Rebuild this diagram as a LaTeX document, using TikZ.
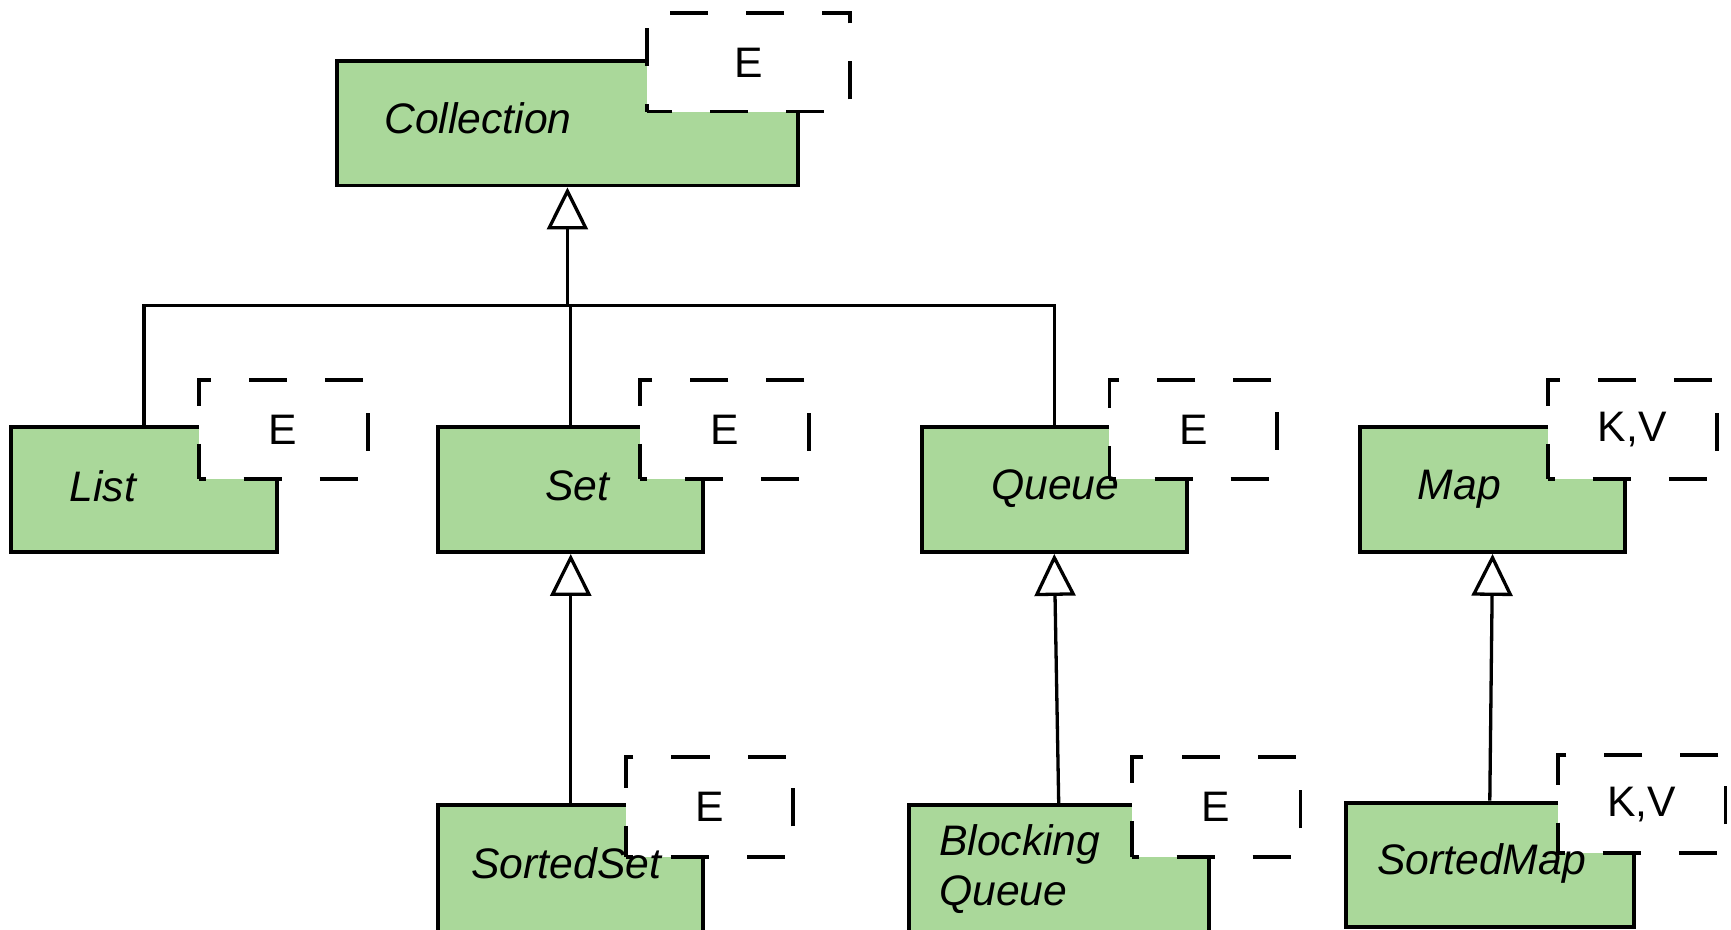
\documentclass[tikz,border=0pt]{standalone}
\usepackage{fontspec}
\setmainfont{Liberation Sans}
\definecolor{ClsGreen}{HTML}{AAD89A}
\usetikzlibrary{arrows.meta, positioning}

\tikzset{
  cls/.style={draw, rectangle, line width=1pt, fill=ClsGreen, inner sep=0pt},
  tparam/.style={draw, rectangle, line width=1pt, fill=white, inner sep=0pt,
    dash pattern=on 9.8pt off 9.8pt, dash phase=8pt, minimum height=0.9cm,
    font=\fontsize{11}{13}\selectfont},
  clsname/.style={inner sep=0pt, font=\itshape\fontsize{11}{13}\selectfont},
  inherit/.style={line width=0.85pt, -{Triangle[open, length=0.38cm, width=0.37cm]}},
  link/.style={line width=0.85pt}
}

\begin{document}
\begin{tikzpicture}
  \useasboundingbox (0,0) rectangle (15.68,-8.42);
  \clip (0,0) rectangle (15.68,-8.42);
  % Top interface
  \node[cls, minimum width=4.18cm, minimum height=1.13cm] (coll) at (5.14,-1.115) {};
  \node[tparam, dash phase=3.3pt, minimum width=1.84cm, minimum height=0.89cm] (collP) at (6.78,-0.565) {E};
  \node[clsname] (collT) at (4.33,-1.07) {Collection};
  % Second row
  \node[cls, minimum width=2.41cm, minimum height=1.13cm] (list) at (1.305,-4.435) {};
  \node[tparam, minimum width=1.53cm] (listP) at (2.565,-3.89) {E};
  \node[clsname] (listT) at (0.93,-4.40) {List};
  \node[cls, minimum width=2.40cm, minimum height=1.13cm] (set) at (5.17,-4.435) {};
  \node[tparam, minimum width=1.53cm] (setP) at (6.565,-3.89) {E};
  \node[clsname] (setT) at (5.23,-4.40) {Set};
  \node[cls, minimum width=2.40cm, minimum height=1.13cm] (queue) at (9.55,-4.435) {};
  \node[tparam, minimum width=1.52cm] (queueP) at (10.81,-3.89) {E};
  \node[clsname] (queueT) at (9.56,-4.43) {Queue};
  \node[cls, minimum width=2.40cm, minimum height=1.13cm] (map) at (13.52,-4.435) {};
  \node[tparam, minimum width=1.53cm] (mapP) at (14.785,-3.89) {K,V};
  \node[clsname] (mapT) at (13.22,-4.43) {Map};
  % Bottom row
  \node[cls, minimum width=2.40cm, minimum height=1.17cm] (sset) at (5.17,-7.875) {};
  \node[tparam, minimum width=1.51cm] (ssetP) at (6.425,-7.31) {E};
  \node[clsname] (ssetT) at (5.13,-7.82) {SortedSet};
  \node[cls, minimum width=2.72cm, minimum height=1.17cm] (bq) at (9.59,-7.875) {};
  \node[tparam, minimum width=1.53cm] (bqP) at (11.015,-7.31) {E};
  \node[clsname, anchor=west, align=left] (bqT) at (8.50,-7.87) {Blocking\\Queue};
  \node[cls, minimum width=2.61cm, minimum height=1.13cm] (smap) at (13.495,-7.835) {};
  \node[tparam, minimum width=1.52cm, minimum height=0.89cm] (smapP) at (14.87,-7.285) {K,V};
  \node[clsname] (smapT) at (13.42,-7.82) {SortedMap};
  % Generalisations
  \coordinate (bus) at (5.14,-2.77);
  \draw[inherit] (bus) -- (coll.south);
  \draw[link] (list.north) |- (bus) -| (queue.north);
  \draw[link] (set.north) -- (set.north |- bus);
  \draw[inherit] (sset.north) -- (set.south);
  \draw[inherit] (bq.north) -- (queue.south);
  \draw[inherit] (smap.north) -- (map.south);
\end{tikzpicture}
\end{document}
